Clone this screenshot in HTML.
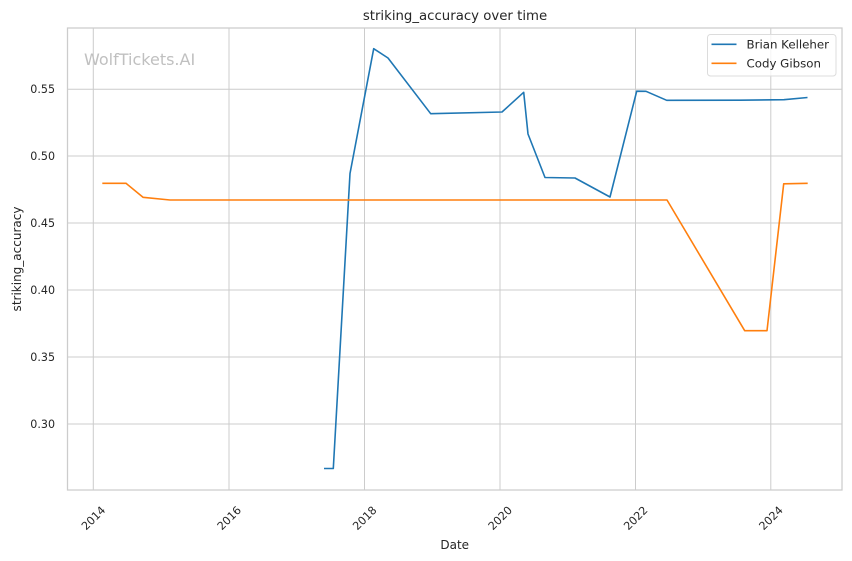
<!DOCTYPE html>
<html><head><meta charset="utf-8"><style>
html,body{margin:0;padding:0;background:#fff;}
svg{display:block;font-family:"DejaVu Sans","Liberation Sans",sans-serif;}
</style></head><body>
<svg width="852" height="561" viewBox="0 0 852 561" xmlns="http://www.w3.org/2000/svg">
<rect width="852" height="561" fill="#fff"/>
<!-- grid -->
<g stroke="#cccccc" stroke-width="1">
<line x1="93.3" y1="28" x2="93.3" y2="490"/>
<line x1="229" y1="28" x2="229" y2="490"/>
<line x1="364.5" y1="28" x2="364.5" y2="490"/>
<line x1="500" y1="28" x2="500" y2="490"/>
<line x1="635.5" y1="28" x2="635.5" y2="490"/>
<line x1="770.8" y1="28" x2="770.8" y2="490"/>
<line x1="67.5" y1="89.2" x2="842" y2="89.2"/>
<line x1="67.5" y1="156" x2="842" y2="156"/>
<line x1="67.5" y1="223" x2="842" y2="223"/>
<line x1="67.5" y1="290" x2="842" y2="290"/>
<line x1="67.5" y1="357" x2="842" y2="357"/>
<line x1="67.5" y1="424" x2="842" y2="424"/>
</g>
<rect x="67.5" y="28" width="774.5" height="462" fill="none" stroke="#cccccc" stroke-width="1.25"/>
<!-- watermark -->
<text x="84" y="65" font-size="16" fill="#c0c0c0">WolfTickets.AI</text>
<!-- series -->
<polyline fill="none" stroke="#1f77b4" stroke-width="1.6" stroke-linejoin="round" points="324,468.5 333.3,468.5 350,173.5 373.7,48.7 388,58 430.7,113.7 502,112 523.7,92.3 528,134 545,177.5 575,178 610,197 636.7,91.2 646,91.3 666.7,100.3 740,100.2 784,99.7 807.5,97.5"/>
<polyline fill="none" stroke="#ff7f0e" stroke-width="1.6" stroke-linejoin="round" points="102.3,183.3 126,183.3 143,197.3 170,200 667,200 744.7,330.7 767,330.7 783.7,183.8 807.7,183.3"/>
<!-- y tick labels -->
<g font-size="11.1" fill="#262626" text-anchor="end">
<text x="55" y="93.2">0.55</text>
<text x="55" y="160">0.50</text>
<text x="55" y="227">0.45</text>
<text x="55" y="294">0.40</text>
<text x="55" y="361">0.35</text>
<text x="55" y="428">0.30</text>
</g>
<!-- x tick labels -->
<g font-size="11.1" fill="#262626" text-anchor="middle">
<text transform="translate(93.3,518) rotate(-45)" dy="4">2014</text>
<text transform="translate(229,518) rotate(-45)" dy="4">2016</text>
<text transform="translate(364.5,518) rotate(-45)" dy="4">2018</text>
<text transform="translate(500,518) rotate(-45)" dy="4">2020</text>
<text transform="translate(635.5,518) rotate(-45)" dy="4">2022</text>
<text transform="translate(770.8,518) rotate(-45)" dy="4">2024</text>
</g>
<!-- axis labels -->
<text x="454.7" y="549" font-size="12" fill="#262626" text-anchor="middle">Date</text>
<text transform="translate(21,259) rotate(-90)" font-size="12" fill="#262626" text-anchor="middle">striking_accuracy</text>
<!-- title -->
<text x="455" y="20" font-size="13.3" fill="#262626" text-anchor="middle">striking_accuracy over time</text>
<!-- legend -->
<rect x="707.5" y="34.5" width="128.5" height="41.5" rx="3" ry="3" fill="#fff" fill-opacity="0.8" stroke="#dcdcdc" stroke-width="1"/>
<line x1="711.5" y1="44.3" x2="736.5" y2="44.3" stroke="#1f77b4" stroke-width="1.6"/>
<line x1="711.5" y1="63.3" x2="736.5" y2="63.3" stroke="#ff7f0e" stroke-width="1.6"/>
<g font-size="11.8" fill="#262626">
<text x="746.5" y="48.5">Brian Kelleher</text>
<text x="746.5" y="67.5">Cody Gibson</text>
</g>
</svg>
</body></html>
